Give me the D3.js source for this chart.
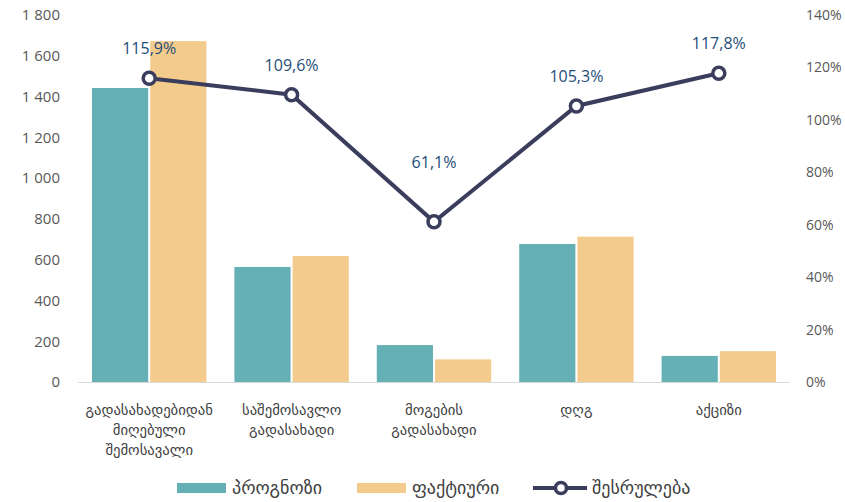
<!DOCTYPE html>
<html>
<head>
<meta charset="utf-8">
<script src="https://cdn.jsdelivr.net/npm/d3@7"></script>
<style>
  body { margin: 0; background: #fff; }
  text { font-family: "Open Sans", "DejaVu Sans", sans-serif; }
</style>
</head>
<body>
<svg id="chart" width="845" height="502"></svg>
<script>
const categories = [
  ['გადასახადებიდან', 'მიღებული', 'შემოსავალი'],
  ['საშემოსავლო', 'გადასახადი'],
  ['მოგების', 'გადასახადი'],
  ['დღგ'],
  ['აქციზი']
];
const forecast = [1442, 564, 181, 677, 128];
const actual = [1672, 618, 111, 713, 151];
const execution = [115.9, 109.6, 61.1, 105.3, 117.8];
const leftTicks = [0, 200, 400, 600, 800, 1000, 1200, 1400, 1600, 1800];
const rightTicks = [0, 20, 40, 60, 80, 100, 120, 140];
const seriesNames = ['პროგნოზი', 'ფაქტიური', 'შესრულება'];

const colors = { forecast: '#65b0b5', actual: '#f3cb8d', line: '#3a3d5c', label: '#1f4e79', axis: '#595959' };

const svg = d3.select('#chart');
const plotLeft = 78, plotRight = 790, plotTop = 15, plotBottom = 382;

const x = d3.scaleBand().domain(d3.range(categories.length)).range([plotLeft, plotRight]);
const xInner = d3.scaleBand().domain([0, 1]).range([14, x.bandwidth() - 14]).paddingInner(0.035);
const yL = d3.scaleLinear().domain([0, 1800]).range([plotBottom, plotTop]);
const yR = d3.scaleLinear().domain([0, 140]).range([plotBottom, plotTop]);

// bars
[forecast, actual].forEach((series, si) => {
  svg.append('g').selectAll('rect')
    .data(series)
    .enter()
    .append('rect')
    .attr('x', (d, i) => x(i) + xInner(si))
    .attr('width', xInner.bandwidth())
    .attr('y', (d) => yL(d))
    .attr('height', (d) => plotBottom - yL(d))
    .attr('fill', si === 0 ? colors.forecast : colors.actual);
});

// baseline
svg.append('line')
  .attr('x1', plotLeft).attr('x2', plotRight)
  .attr('y1', plotBottom + 0.5).attr('y2', plotBottom + 0.5)
  .attr('stroke', '#d9d9d9').attr('stroke-width', 1.2);

// left axis
const axisL = svg.append('g')
  .attr('transform', `translate(${plotLeft},0)`)
  .call(d3.axisLeft(yL).tickValues(leftTicks).tickSize(0).tickPadding(18)
    .tickFormat((d) => d3.format(',')(d).replace(/,/g, ' ')));
axisL.select('.domain').remove();
axisL.selectAll('text').attr('font-size', 15).attr('fill', colors.axis);

// right axis
const axisR = svg.append('g')
  .attr('transform', `translate(${plotRight},0)`)
  .call(d3.axisRight(yR).tickValues(rightTicks).tickSize(0).tickPadding(16).tickFormat((d) => d + '%'));
axisR.select('.domain').remove();
axisR.selectAll('text').attr('font-size', 14).attr('fill', colors.axis);

// category labels
const cat = svg.append('g').selectAll('text')
  .data(categories)
  .enter()
  .append('text')
  .attr('x', (d, i) => x(i) + x.bandwidth() / 2)
  .attr('y', 415)
  .attr('text-anchor', 'middle')
  .attr('font-size', 14.7)
  .attr('fill', '#404040');
cat.selectAll('tspan')
  .data((d) => d)
  .enter()
  .append('tspan')
  .attr('x', function () { return d3.select(this.parentNode).attr('x'); })
  .attr('dy', (d, i) => (i === 0 ? 0 : 20))
  .text((d) => d);

// line
const cx = (i) => x(i) + x.bandwidth() / 2;
const line = d3.line().x((d, i) => cx(i)).y((d) => yR(d));
svg.append('path')
  .datum(execution)
  .attr('d', line)
  .attr('fill', 'none')
  .attr('stroke', colors.line)
  .attr('stroke-width', 4);

svg.append('g').selectAll('circle')
  .data(execution)
  .enter()
  .append('circle')
  .attr('cx', (d, i) => cx(i))
  .attr('cy', (d) => yR(d))
  .attr('r', 6)
  .attr('fill', '#fff')
  .attr('stroke', colors.line)
  .attr('stroke-width', 3.5);

// the lowest point's label sits higher, clear of the V
const minVal = d3.min(execution);
svg.append('g').selectAll('text')
  .data(execution)
  .enter()
  .append('text')
  .attr('x', (d, i) => cx(i))
  .attr('y', (d) => yR(d) - (d === minVal ? 54 : 24))
  .attr('text-anchor', 'middle')
  .attr('font-size', 16)
  .attr('fill', colors.label)
  .text((d) => d3.format('.1f')(d).replace('.', ',') + '%');

// legend
const legend = svg.append('g').attr('transform', 'translate(0,488)');
const lx = [177, 357, 533];
legend.append('rect').attr('x', lx[0]).attr('y', -5).attr('width', 49).attr('height', 10).attr('fill', colors.forecast);
legend.append('rect').attr('x', lx[1]).attr('y', -5).attr('width', 49).attr('height', 10).attr('fill', colors.actual);
legend.append('line').attr('x1', lx[2]).attr('x2', lx[2] + 54).attr('y1', 0).attr('y2', 0)
  .attr('stroke', colors.line).attr('stroke-width', 4);
legend.append('circle').attr('cx', lx[2] + 28).attr('cy', 0).attr('r', 5.5)
  .attr('fill', '#fff').attr('stroke', colors.line).attr('stroke-width', 3.5);
const textOffsets = [55, 55, 59];
seriesNames.forEach((name, i) => {
  legend.append('text')
    .attr('x', lx[i] + textOffsets[i])
    .attr('y', 6)
    .attr('font-size', 18)
    .attr('fill', '#404040')
    .text(name);
});
</script>
</body>
</html>
